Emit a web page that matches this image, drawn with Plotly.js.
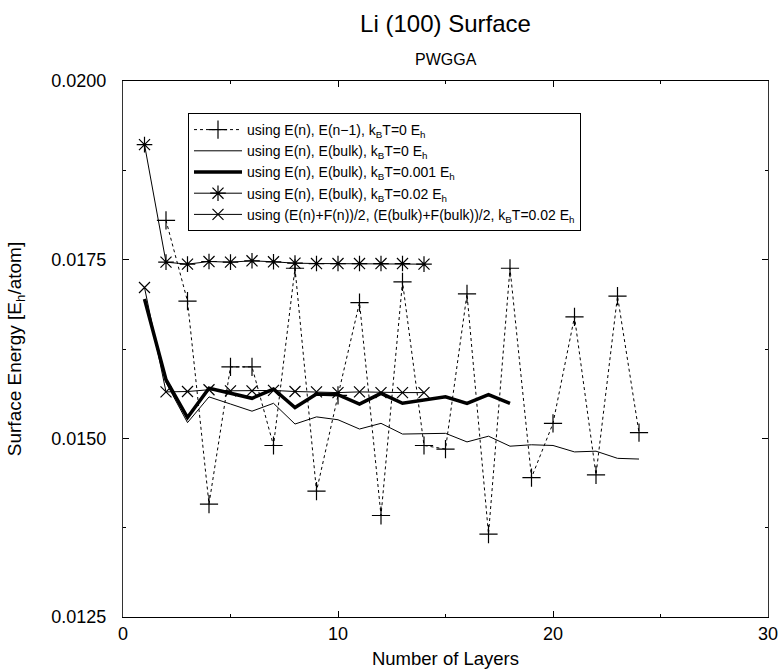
<!DOCTYPE html>
<html>
<head>
<meta charset="utf-8">
<script src="https://cdn.plot.ly/plotly-3.0.1.min.js"></script>
<style>html,body{margin:0;padding:0;background:#fff;}#chart{width:779px;height:671px;}</style>
</head>
<body>
<div id="chart"></div>
<script>
// Number of layers for each series
const nPrev = [2,3,4,5,6,7,8,9,10,11,12,13,14,15,16,17,18,19,20,21,22,23,24];
const ePrev = [0.01805,0.01692,0.01408,0.01600,0.01600,0.01490,0.01738,0.01426,0.01560,0.01690,0.01392,0.01719,0.01490,0.01485,0.01702,0.01366,0.01738,0.01445,0.01521,0.01670,0.01449,0.01699,0.01508];

const nBulk0 = [1,2,3,4,5,6,7,8,9,10,11,12,13,14,15,16,17,18,19,20,21,22,23,24];
const eBulk0 = [0.01693,0.01578,0.01522,0.01558,0.01548,0.01538,0.01549,0.01520,0.01530,0.01526,0.01513,0.01521,0.01506,0.01506,0.01507,0.01495,0.01503,0.01489,0.01491,0.01490,0.01481,0.01482,0.01472,0.01471];

const nBulk001 = [1,2,3,4,5,6,7,8,9,10,11,12,13,14,15,16,17,18];
const eBulk001 = [0.01695,0.01582,0.01529,0.01570,0.01563,0.01556,0.01569,0.01543,0.01562,0.01561,0.01548,0.01563,0.01549,0.01553,0.01558,0.01549,0.01561,0.01549];

const nBulk02 = [1,2,3,4,5,6,7,8,9,10,11,12,13,14];
const eBulk02 = [0.01911,0.017465,0.017437,0.017474,0.017465,0.017484,0.01747,0.017451,0.017446,0.017446,0.017446,0.017446,0.017446,0.017437];

const nAvg02 = [1,2,3,4,5,6,7,8,9,10,11,12,13,14];
const eAvg02 = [0.01711,0.01565,0.015655,0.01568,0.015665,0.015665,0.01567,0.015655,0.01565,0.01564,0.01565,0.01564,0.01564,0.01564];

const labels = [
  "using E(n), E(n\u22121), k<sub>B</sub>T=0 E<sub>h</sub>",
  "using E(n), E(bulk), k<sub>B</sub>T=0 E<sub>h</sub>",
  "using E(n), E(bulk), k<sub>B</sub>T=0.001 E<sub>h</sub>",
  "using E(n), E(bulk), k<sub>B</sub>T=0.02 E<sub>h</sub>",
  "using (E(n)+F(n))/2, (E(bulk)+F(bulk))/2, k<sub>B</sub>T=0.02 E<sub>h</sub>"
];

const FONT = '"Liberation Sans", Arial, Helvetica, sans-serif';

const traces = [
  {x:nPrev, y:ePrev, name:labels[0], mode:'lines+markers',
   line:{color:'#000', width:1, dash:'dot'},
   marker:{symbol:'cross-thin-open', size:13, color:'#000', line:{color:'#000', width:1.2}}},
  {x:nBulk0, y:eBulk0, name:labels[1], mode:'lines',
   line:{color:'#000', width:1}},
  {x:nBulk001, y:eBulk001, name:labels[2], mode:'lines',
   line:{color:'#000', width:3.5}},
  {x:nBulk02, y:eBulk02, name:labels[3], mode:'lines+markers',
   line:{color:'#000', width:1},
   marker:{symbol:'asterisk-open', size:13, color:'#000', line:{color:'#000', width:1.2}}},
  {x:nAvg02, y:eAvg02, name:labels[4], mode:'lines+markers',
   line:{color:'#000', width:1},
   marker:{symbol:'x-thin-open', size:11, color:'#000', line:{color:'#000', width:1.2}}}
];

const layout = {
  width:779, height:671,
  margin:{l:123, r:11, t:81, b:54},
  paper_bgcolor:'#fff', plot_bgcolor:'#fff',
  font:{family:FONT, color:'#000', size:16},
  showlegend:true,
  title:{text:'Li (100) Surface', font:{family:FONT, size:24, color:'#000'},
         xref:'paper', x:0.5, xanchor:'center', yref:'container', y:0.965, yanchor:'middle'},
  annotations:[
    {text:'PWGGA', xref:'paper', yref:'paper', x:0.5, y:1.0 + (81-60)/536, xanchor:'center', yanchor:'middle',
     showarrow:false, font:{family:FONT, size:16, color:'#000'}}
  ],
  xaxis:{range:[0,30], dtick:10, tick0:0, ticks:'inside', ticklen:6, tickcolor:'#000',
         showline:true, linecolor:'#000', linewidth:1, mirror:'allticks', showgrid:false, zeroline:false,
         minor:{dtick:5, ticks:'inside', ticklen:3, tickcolor:'#000', showgrid:false},
         tickfont:{family:FONT, size:18},
         title:{text:'Number of Layers', font:{family:FONT, size:18.5}, standoff:9}},
  yaxis:{range:[0.0125,0.0200], dtick:0.0025, tick0:0.0125, tickformat:'.4f', ticks:'inside', ticklen:6, tickcolor:'#000',
         showline:true, linecolor:'#333', linewidth:1, mirror:'allticks', showgrid:false, zeroline:false,
         minor:{dtick:0.00125, ticks:'inside', ticklen:3, tickcolor:'#000', showgrid:false},
         tickfont:{family:FONT, size:18}, ticklabelstandoff:12,
         title:{text:'Surface Energy [E<sub>h</sub>/atom]', font:{family:FONT, size:19}, standoff:24}},
  legend:{x:(188-123)/645, y:(617-113)/536, xanchor:'left', yanchor:'top',
          bordercolor:'#000', borderwidth:1, bgcolor:'#fff',
          font:{family:FONT, size:14, color:'#000'}, itemwidth:48, tracegroupgap:0}
};

Plotly.newPlot('chart', traces, layout, {displayModeBar:false, staticPlot:true});
</script>
</body>
</html>
